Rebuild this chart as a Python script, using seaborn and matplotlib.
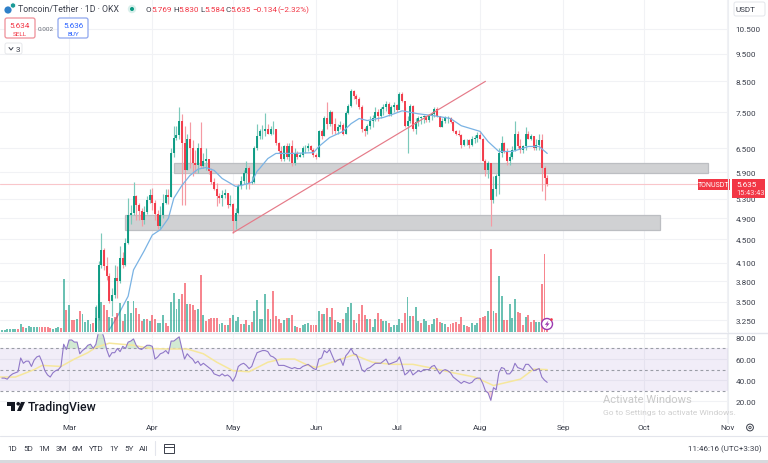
import matplotlib
matplotlib.use("Agg")
import matplotlib.dates as mdates
import matplotlib.pyplot as plt
from matplotlib.patches import Circle, FancyBboxPatch, Polygon, Rectangle
from matplotlib.ticker import NullLocator
import numpy as np
import pandas as pd
import seaborn as sns

GREEN = "#089981"
RED = "#f23645"
GRID = "#f1f2f5"
TEXT = "#3a3e4a"

# daily candles from 11 Mar to 26 Aug 2024, open is the previous close
candle_start = "2024-03-11"
first_open = 3.10
closes = [
    3.28, 4.06, 4.31, 4.04, 3.88, 3.51, 3.60, 3.86, 3.80, 4.17, 4.06, 4.43, 4.96, 5.00, 5.35, 5.16, 5.04, 4.86,
    5.02, 5.27, 5.39, 5.20, 4.98, 4.74, 4.96, 5.20, 5.37, 5.33, 6.36, 6.78, 6.84, 7.26, 6.62, 5.94, 6.75, 6.49,
    6.11, 6.06, 6.49, 6.04, 6.18, 6.23, 5.92, 5.68, 5.52, 5.35, 5.31, 5.39, 5.43, 5.16, 5.18, 4.84, 5.00, 5.57,
    5.70, 5.87, 5.99, 5.64, 5.68, 6.49, 6.81, 6.95, 6.97, 7.03, 6.89, 7.03, 7.03, 6.62, 6.41, 6.23, 6.54, 6.28,
    6.54, 6.11, 6.36, 6.28, 6.31, 6.49, 6.51, 6.54, 6.46, 6.31, 6.28, 6.97, 6.81, 7.32, 7.17, 7.52, 7.17, 6.97,
    7.08, 7.14, 6.89, 7.49, 7.71, 8.18, 8.02, 7.93, 7.68, 7.03, 6.95, 7.11, 7.26, 7.32, 7.52, 7.40, 7.61, 7.68,
    7.77, 7.46, 7.68, 7.74, 7.58, 8.09, 7.86, 7.11, 7.26, 7.71, 7.03, 7.23, 7.32, 7.35, 7.38, 7.29, 7.40, 7.46,
    7.61, 7.38, 7.08, 7.26, 7.32, 7.32, 7.23, 6.95, 6.89, 6.84, 6.57, 6.70, 6.70, 6.57, 6.75, 6.78, 6.84, 6.75,
    6.18, 5.94, 6.11, 5.27, 5.52, 5.80, 6.36, 6.62, 6.41, 6.18, 6.28, 6.44, 6.89, 6.54, 6.44, 6.54, 6.89, 6.75,
    6.81, 6.49, 6.59, 6.70, 5.99, 5.769, 5.635,
]
highs = [
    3.45, 4.13, 4.61, 4.34, 4.20, 3.93, 3.70, 4.06, 4.04, 4.38, 4.27, 4.52, 5.31, 5.16, 5.68, 5.39, 5.20, 5.10,
    5.14, 5.35, 5.52, 5.54, 5.27, 5.06, 5.14, 5.41, 5.52, 5.52, 6.49, 7.11, 7.09, 7.67, 7.46, 7.11, 6.89, 7.23,
    6.70, 6.44, 6.62, 7.23, 6.36, 6.49, 6.16, 5.99, 5.75, 5.64, 5.43, 5.48, 5.52, 5.43, 5.39, 5.22, 5.10, 5.62,
    5.80, 5.94, 6.18, 6.04, 5.80, 6.54, 7.17, 7.03, 7.14, 7.49, 7.17, 7.11, 7.26, 7.03, 6.67, 6.54, 6.59, 6.62,
    6.64, 6.70, 6.49, 6.41, 6.38, 6.54, 6.57, 6.62, 6.57, 6.49, 6.38, 7.00, 7.03, 7.38, 7.83, 7.58, 7.55, 7.32,
    7.17, 7.26, 7.20, 7.55, 7.77, 8.25, 8.22, 8.09, 7.99, 7.74, 7.08, 7.17, 7.38, 7.43, 7.68, 7.61, 7.68, 7.77,
    7.86, 7.83, 7.74, 7.83, 7.77, 8.15, 8.15, 7.68, 7.40, 7.77, 7.74, 7.32, 7.38, 7.40, 7.43, 7.40, 7.46, 7.52,
    7.68, 7.68, 7.40, 7.32, 7.38, 7.38, 7.35, 7.26, 7.00, 7.00, 6.87, 6.75, 6.75, 6.73, 6.81, 6.84, 6.92, 6.97,
    6.78, 6.21, 6.16, 6.13, 5.80, 5.85, 6.49, 6.81, 6.67, 6.49, 6.36, 6.54, 7.26, 6.97, 6.75, 6.59, 7.08, 6.97,
    6.89, 6.81, 6.75, 6.87, 6.89, 6.04, 5.83,
]
lows = [
    3.15, 3.25, 4.01, 3.98, 3.82, 3.49, 3.30, 3.55, 3.55, 3.77, 4.01, 4.04, 4.41, 4.78, 4.96, 4.86, 4.86, 4.74,
    4.78, 4.98, 5.20, 5.06, 4.86, 4.70, 4.70, 4.90, 5.18, 5.18, 5.33, 6.28, 6.70, 6.75, 5.16, 5.16, 5.94, 5.99,
    5.80, 5.87, 5.87, 5.99, 5.99, 5.94, 5.85, 5.62, 5.48, 5.14, 5.22, 5.14, 5.31, 5.10, 5.14, 4.61, 4.70, 4.98,
    5.52, 5.62, 5.52, 5.52, 5.62, 5.64, 6.44, 6.75, 6.75, 6.81, 6.87, 6.84, 6.89, 6.57, 6.36, 6.18, 6.18, 6.23,
    6.18, 6.04, 6.06, 6.23, 6.26, 6.28, 6.36, 6.41, 6.41, 6.26, 6.23, 6.26, 6.75, 6.81, 7.03, 7.11, 6.89, 6.89,
    6.89, 7.03, 6.84, 6.87, 7.46, 7.68, 7.93, 7.77, 7.61, 6.92, 6.81, 6.89, 7.03, 7.08, 7.26, 7.26, 7.32, 7.43,
    7.55, 7.38, 7.40, 7.52, 7.52, 7.61, 7.83, 7.08, 6.36, 7.20, 6.97, 6.89, 7.11, 7.17, 7.20, 7.23, 7.23, 7.29,
    7.35, 7.35, 7.06, 7.06, 7.20, 7.20, 7.20, 6.92, 6.84, 6.81, 6.49, 6.54, 6.59, 6.51, 6.54, 6.64, 6.67, 6.73,
    6.16, 5.80, 5.75, 4.74, 5.22, 5.35, 5.41, 6.28, 6.36, 6.08, 6.08, 6.21, 6.41, 6.49, 6.38, 6.38, 6.46, 6.73,
    6.70, 6.46, 6.46, 6.46, 5.46, 5.27, 5.584,
]

# moving average drawn over the candles
ma_dates = [
    "2024-03-16", "2024-03-19", "2024-03-23", "2024-03-25", "2024-03-29", "2024-04-01", "2024-04-04", "2024-04-07",
    "2024-04-09", "2024-04-12", "2024-04-15", "2024-04-18", "2024-04-21", "2024-04-24", "2024-04-27", "2024-05-02",
    "2024-05-04", "2024-05-08", "2024-05-10", "2024-05-11", "2024-05-14", "2024-05-17", "2024-05-23", "2024-05-31",
    "2024-06-02", "2024-06-06", "2024-06-11", "2024-06-14", "2024-06-17", "2024-06-20", "2024-06-26", "2024-06-30",
    "2024-07-03", "2024-07-09", "2024-07-15", "2024-07-21", "2024-07-25", "2024-08-01", "2024-08-04", "2024-08-08",
    "2024-08-13", "2024-08-19", "2024-08-23", "2024-08-26",
]
ma_values = [
    3.13, 3.30, 3.58, 3.98, 4.30, 4.58, 4.68, 4.90, 5.31, 5.59, 5.82, 5.97, 6.01, 5.94, 5.75, 5.57, 5.59, 5.66,
    5.92, 5.99, 6.23, 6.36, 6.36, 6.38, 6.54, 6.78, 6.95, 7.17, 7.32, 7.26, 7.35, 7.46, 7.55, 7.46, 7.40, 7.32,
    7.11, 6.95, 6.67, 6.41, 6.41, 6.54, 6.54, 6.36,
]

# daily volume from 5 Feb to 26 Aug 2024, r and g give the bar colour
volume_start = "2024-02-05"
volumes = [
    2, 2, 3, 3, 3, 3, 3, 8, 5, 4, 6, 5, 5, 5, 5, 5, 5, 5, 4, 3, 4, 5, 4, 53, 22, 27, 12, 12, 13, 21, 18, 10, 12,
    8, 9, 25, 38, 30, 27, 22, 15, 14, 15, 19, 29, 11, 18, 31, 19, 31, 24, 18, 11, 13, 13, 11, 17, 13, 9, 9, 17,
    9, 6, 30, 39, 23, 33, 38, 49, 28, 28, 27, 22, 23, 57, 17, 11, 13, 14, 14, 14, 8, 9, 7, 7, 14, 17, 11, 15, 8,
    8, 12, 7, 10, 21, 32, 13, 13, 38, 23, 13, 41, 16, 13,
    9, 12, 14, 14, 17, 6, 5, 4, 7, 8, 9, 7, 7, 7, 21, 18, 18, 24, 15, 24, 12, 10, 9, 13, 19, 25, 29, 12, 9, 18,
    27, 17, 13, 13, 5, 13, 19, 13, 11, 11, 9, 5, 7, 7, 13, 9, 19, 35, 16, 16, 25, 11, 9, 13, 11, 7, 8, 13, 14,
    10, 9, 8, 5, 8, 9, 10, 8, 15, 7, 6, 5, 9, 7, 9, 14, 15, 16, 21, 83, 21, 19, 56, 36, 12, 12, 28, 14, 33, 20,
    19, 7, 15, 17, 10, 12, 10, 10, 48, 78, 14,
]
volume_sides = list(
    "ggggggrgrg" "ggggrrrrrg" "ggrgrgrrgr" "ggggrgggrr" "ggrrgrgggg" "rrrgrgrrgg" "grrggggrrg" "rrrgrgrrrr"
    "rggrgrgggr" "grgrgggggr" "grrr"
    "rgrgr" "grrgg" "grrrg" "rgrgr" "rggrg" "ggrgr" "rrgrg" "grrgg" "rgggg" "rrggr" "ggrgg" "rggrr" "ggrrr"
    "rrrgr" "rgggr" "rrgrg" "rggrr" "gggrr" "rgrrr" "ggrr" "r"
)

rsi_values = [
    42, 42, 41, 44, 46, 47, 48, 61, 56, 58, 58, 53, 59, 62, 63, 57, 49, 45, 43, 47, 49, 50, 53, 74, 69, 78, 78,
    76, 76, 65, 68, 70, 73, 74, 70, 74, 86, 88, 80, 69, 62, 66, 66, 70, 67, 72, 70, 76, 77, 79, 73, 70, 69, 71,
    73, 73, 72, 60, 62, 65, 66, 68, 65, 77, 77, 79, 81, 70, 60, 65, 62, 60, 56, 58, 54, 56, 54, 52, 50, 46, 45,
    44, 46, 44, 45, 43, 39, 44, 53, 55, 56, 54, 51, 53, 60, 66, 67, 68, 68, 67, 63, 62, 60, 54,
    54, 54, 53, 52, 51, 52, 51, 51, 53, 54, 55, 53, 51, 50, 60, 61, 68, 66, 69, 63, 57, 59, 60, 54, 63, 66, 70,
    65, 64, 58, 50, 48, 51, 52, 54, 56, 56, 56, 58, 60, 55, 56, 57, 58, 62, 54, 45, 47, 50, 45, 47, 49, 48, 50,
    50, 50, 53, 54, 50, 46, 49, 50, 49, 47, 43, 41, 39, 37, 39, 38, 37, 38, 41, 42, 42, 37, 30, 28, 21, 33, 31,
    47, 52, 51, 46, 46, 49, 56, 52, 51, 50, 55, 55, 52, 49, 50, 51, 43, 40, 38,
]
rsi_ma_dates = [
    "2024-02-04", "2024-02-10", "2024-02-17", "2024-02-20", "2024-02-27", "2024-03-03", "2024-03-08", "2024-03-11",
    "2024-03-16", "2024-03-25", "2024-03-31", "2024-04-06", "2024-04-14", "2024-04-20", "2024-04-25", "2024-05-01",
    "2024-05-07", "2024-05-14", "2024-05-19", "2024-05-24", "2024-05-29", "2024-06-01", "2024-06-08", "2024-06-15",
    "2024-06-22", "2024-06-29", "2024-07-07", "2024-07-15", "2024-07-22", "2024-07-30", "2024-08-06", "2024-08-11",
    "2024-08-16", "2024-08-21", "2024-08-26",
]
rsi_ma_values = [
    43, 43, 50, 54, 53, 60, 66, 71, 75, 73, 70, 69.5, 69.5, 65, 57, 49, 48, 57, 60, 60, 54, 52, 58, 64, 57, 55,
    55, 51, 47, 43, 35, 38, 41, 50.5, 50,
]

price_ticks = [10.5, 9.5, 8.5, 7.5, 6.5, 5.9, 5.3, 4.9, 4.5, 4.1, 3.8, 3.5, 3.25]
rsi_ticks = [80, 60, 40, 20]
month_dates = ["2024-03-01", "2024-04-01", "2024-05-01", "2024-06-01", "2024-07-01", "2024-08-01", "2024-09-01",
               "2024-10-01", "2024-11-01"]
month_labels = ["Mar", "Apr", "May", "Jun", "Jul", "Aug", "Sep", "Oct", "Nov"]
range_labels = ["1D", "5D", "1M", "3M", "6M", "YTD", "1Y", "5Y", "All"]

# drawn boxes and trend line
zone_upper = ("2024-04-09", "2024-10-25", 5.87, 6.13)
zone_lower = ("2024-03-22", "2024-10-07", 4.68, 4.97)
trend_dates = ["2024-05-01", "2024-08-03"]
trend_prices = [4.62, 8.50]
last_price = 5.635


def num(dates):
    return mdates.date2num(pd.to_datetime(dates))


sns.set_style("white")
plt.rcParams["font.family"] = ["Roboto", "DejaVu Sans"]

W, H = 768, 464
fig = plt.figure(figsize=(W / 100, H / 100), dpi=100)


def pane(x0, y0, x1, y1, **kw):
    return fig.add_axes([x0 / W, 1 - y1 / H, (x1 - x0) / W, (y1 - y0) / H], **kw)


ax_price = pane(0, 0, 728, 333)
ax_volume = pane(0, 0, 728, 333, facecolor="none")
ax_rsi = pane(0, 334, 728, 424)
ui = pane(0, 0, W, H, facecolor="none")
ui.set_xlim(0, W)
ui.set_ylim(H, 0)
ui.axis("off")

x_min = mdates.date2num(pd.Timestamp("2024-03-01")) - 25.7
x_max = mdates.date2num(pd.Timestamp("2024-03-01")) + 245.3
month_nums = num(month_dates)

# price pane
candle_x = mdates.date2num(pd.date_range(candle_start, periods=len(closes)))
c = np.array(closes)
o = np.r_[first_open, c[:-1]]
up = c >= o
body_colors = np.where(up, GREEN, RED)
wick_colors = np.where(up, "#7cc9bb", "#f59aa3")
ax_price.vlines(candle_x, lows, highs, colors=wick_colors, lw=0.85, zorder=3)
ax_price.vlines(candle_x, o, c, colors=body_colors, lw=1.35, zorder=4)
sns.lineplot(x=num(ma_dates), y=ma_values, color="#7ab3e4", lw=0.9, ax=ax_price, zorder=5, errorbar=None)
for x0, x1, p0, p1 in [zone_upper, zone_lower]:
    x0, x1 = num([x0, x1])
    ax_price.add_patch(Rectangle((x0, p0), x1 - x0, p1 - p0, fc="#d0d1d3", ec="#bcbec2", lw=0.9, zorder=2))
sns.lineplot(x=num(trend_dates), y=trend_prices, color="#e57a88", lw=0.85, ax=ax_price, zorder=6, errorbar=None)
ax_price.axhline(last_price, color="#f9c6ca", lw=0.8, zorder=1)
ax_price.set_yscale("log")
ax_price.set_ylim(3.10, 11.84)
ax_price.set_xlim(x_min, x_max)
ax_price.set_yticks(price_ticks)
ax_price.set_yticklabels([f"{t:.3f}" for t in price_ticks])
ax_price.yaxis.set_minor_locator(NullLocator())
ax_price.yaxis.tick_right()
ax_price.set_xticks(month_nums)
ax_price.set_xticklabels([])
ax_price.tick_params(axis="y", length=0, pad=5.5, labelsize=5.9, labelcolor=TEXT)
ax_price.tick_params(axis="x", length=0)
ax_price.grid(True, color=GRID, lw=0.8)
ax_price.set_axisbelow(True)
for s in ax_price.spines.values():
    s.set_visible(False)

# volume bars
volume_x = mdates.date2num(pd.date_range(volume_start, periods=len(volumes)))
df_volume = pd.DataFrame({"day": volume_x, "volume": volumes, "side": volume_sides})
sns.barplot(data=df_volume, x="day", y="volume", hue="side", palette={"g": GREEN, "r": RED}, native_scale=True,
            dodge=False, width=0.72, saturation=1, alpha=0.6, linewidth=0, errorbar=None, legend=False, ax=ax_volume)
ax_volume.set_xlim(x_min, x_max)
ax_volume.set_ylim(0, 333)
ax_volume.axis("off")

# rsi pane
rsi_x = mdates.date2num(pd.date_range(volume_start, periods=len(rsi_values)))
rsi = np.array(rsi_values, dtype=float)
ax_rsi.axhspan(30, 70, color="#7e57c2", alpha=0.1, lw=0)
for level in [70, 50, 30]:
    ax_rsi.axhline(level, color="#9a9da6", lw=0.8, dashes=(2.5, 2.5))
ax_rsi.fill_between(rsi_x, 70, rsi, where=rsi > 70, interpolate=True, color="#4caf50", alpha=0.25, lw=0)
ax_rsi.fill_between(rsi_x, 30, rsi, where=rsi < 30, interpolate=True, color="#f23645", alpha=0.2, lw=0)
sns.lineplot(x=num(rsi_ma_dates), y=rsi_ma_values, color="#f6e79c", lw=1.1, ax=ax_rsi, errorbar=None)
sns.lineplot(x=rsi_x, y=rsi, color="#9078c8", lw=0.8, ax=ax_rsi, errorbar=None)
ax_rsi.set_xlim(x_min, x_max)
ax_rsi.set_ylim(-0.4, 84.6)
ax_rsi.set_yticks(rsi_ticks)
ax_rsi.set_yticklabels([f"{t:.2f}" for t in rsi_ticks])
ax_rsi.yaxis.tick_right()
ax_rsi.set_xticks(month_nums)
ax_rsi.set_xticklabels(month_labels)
ax_rsi.tick_params(axis="y", length=0, pad=5.5, labelsize=5.9, labelcolor=TEXT)
ax_rsi.tick_params(axis="x", length=0, pad=1, labelsize=5.9, labelcolor=TEXT)
ax_rsi.grid(True, color=GRID, lw=0.8)
ax_rsi.set_axisbelow(True)
for s in ax_rsi.spines.values():
    s.set_visible(False)


def label(x, y, s, size=5.9, color=TEXT, ha="left", **kw):
    ui.text(x, y, s, fontsize=size, color=color, ha=ha, va="center", **kw)


def rbox(x0, y0, x1, y1, ec, fc="white", lw=0.8, r=2):
    ui.add_patch(FancyBboxPatch((x0, y0), x1 - x0, y1 - y0, boxstyle=f"round,pad=0,rounding_size={r}",
                                fc=fc, ec=ec, lw=lw))


# panel frames
ui.plot([728, 728], [0, 424], color="#eceef2", lw=0.8)
ui.plot([0, W], [333.5, 333.5], color="#e3e5ec", lw=1)
ui.plot([0, W], [437, 437], color="#e3e5ec", lw=0.8)
ui.add_patch(Rectangle((0, 461), W, 3, fc="#d8d9dd", ec="none"))

# header
ui.add_patch(Circle((8, 11), 3.6, fc="#2f80c8", ec="none"))
ui.add_patch(Circle((13, 6.5), 2.6, fc="#1a9a96", ec="white", lw=0.5))
label(18, 10, "Toncoin/Tether · 1D · OKX", size=6.3, color="#3f434f")
ui.add_patch(Circle((132, 10), 4.2, fc="#d8efeb", ec="none"))
ui.add_patch(Circle((132, 10), 2, fc=GREEN, ec="none"))
for x, s, col in [(146, "O", TEXT), (151, "5.769", RED), (173, "H", TEXT), (178, "5.830", RED), (200, "L", TEXT),
                  (204, "5.584", RED), (225, "C", TEXT), (230, "5.635", RED), (252, "−0.134", RED),
                  (277, "(−2.32%)", RED)]:
    label(x, 10, s, size=5.9, color=col)
rbox(5, 19, 35, 39, "#ee8f98", lw=0.9)
label(20, 26, "5.634", color=RED, ha="center")
label(20, 34.5, "SELL", size=4.6, color=RED, ha="center")
label(46, 29.5, "0.002", size=4.6, color="#666a75", ha="center")
rbox(58, 19, 88, 39, "#8ea6ee", lw=0.9)
label(73, 26, "5.636", color="#2962ff", ha="center")
label(73, 34.5, "BUY", size=4.6, color="#2962ff", ha="center")
rbox(5, 44, 22, 55, "#e6e7ea", lw=0.7)
ui.plot([9, 11, 13], [48.5, 51, 48.5], color=TEXT, lw=0.7)
label(15.5, 49.5, "3")

# right scale boxes
rbox(734, 3, 765, 17, "#e3e5ea", lw=0.7)
label(735.5, 10, "USDT")
ui.add_patch(Rectangle((698, 180), 32, 10.5, fc=RED, ec="none"))
label(714, 185.2, "TONUSDT", size=5, color="white", ha="center")
ui.add_patch(Rectangle((732, 180), 33, 19, fc=RED, ec="none"))
label(736, 185.2, "5.635", color="white")
label(736, 194, "15:43:43", size=5.3, color="#fde0e2")

# alert marker on the last bar
ui.add_patch(Circle((547, 325), 5.5, fc="white", ec="#9c3ab0", lw=1))
ui.add_patch(Polygon([(548.5, 321.5), (544.8, 325.8), (547, 325.8), (545.8, 328.8), (549.6, 324.4), (547.4, 324.4)],
                     fc="#9c3ab0", ec="none"))
ui.add_patch(Circle((551.5, 320.5), 1.3, fc=RED, ec="none"))

# TradingView mark
for pts in [[(7, 403), (15, 403), (15, 412), (11, 412), (11, 407), (7, 407)],
            [(21, 403), (25, 403), (21, 412), (17, 412)]]:
    ui.add_patch(Polygon(pts, fc="#131722", ec="none"))
ui.add_patch(Circle((18.2, 404.8), 1.8, fc="#131722", ec="none"))
label(28, 407.5, "TradingView", size=8.8, color="#131722", fontweight="medium")

# windows watermark
label(603, 400, "Activate Windows", size=8, color="#c9c9c9")
label(603, 413, "Go to Settings to activate Windows.", size=6, color="#cfcfcf")

# bottom bar
for x, s in zip([12, 28, 44, 61, 77, 96, 114, 129, 144], range_labels):
    label(x, 449, s, ha="center")
ui.plot([155, 155], [442, 456], color="#e3e5ec", lw=0.8)
ui.add_patch(Rectangle((164, 444.5), 9.5, 9.5, fc="none", ec=TEXT, lw=0.7))
ui.plot([164, 173.5], [447.5, 447.5], color=TEXT, lw=0.7)
ui.add_patch(Circle((750, 428.5), 3.4, fc="none", ec=TEXT, lw=0.7))
ui.add_patch(Circle((750, 428.5), 1.2, fc="none", ec=TEXT, lw=0.6))
label(762, 449, "11:46:16 (UTC+3:30)", size=5.8, ha="right")

fig.savefig("out.png", dpi=100)
plt.close()
